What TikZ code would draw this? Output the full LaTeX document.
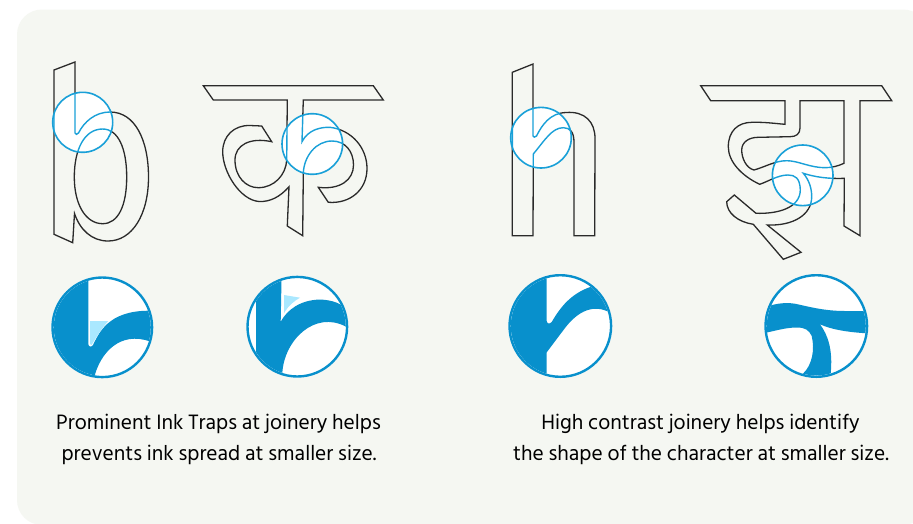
\documentclass[tikz,border=0pt]{standalone}
\usepackage{fontspec}
\setmainfont{Hind Siliguri}
\definecolor{panel}{HTML}{F5F7F2}
\definecolor{inkblue}{HTML}{0890CC}
\definecolor{ringblue}{HTML}{19A0D8}
\definecolor{trap}{HTML}{AAE8FF}
\definecolor{glyphink}{HTML}{2A2A2A}
\tikzset{
  glyphline/.style={draw=glyphink,line width=1.3pt,line join=miter},
  lensline/.style={draw=ringblue,line width=1.4pt},
  lensring/.style={draw=ringblue,line width=1.6pt},
  zoomring/.style={draw=inkblue,line width=2.4pt},
  caption/.style={font=\fontsize{21.4}{24}\selectfont,text=black,inner sep=0pt,anchor=base}
}
\def\glyphB{(54,70) -- (75,62) -- (75,133) .. controls (75,134.5) and (77.5,135) .. (78.5,133)
  .. controls (84,122) and (95,112) .. (110,112)
  .. controls (135,112) and (148.5,140) .. (148.5,177)
  .. controls (148.5,215) and (132,241) .. (108,241)
  .. controls (92,241) and (80,230) .. (74.5,213.5)
  -- (72.7,242.7) -- (54,234.3) -- cycle
  (102.7,129) .. controls (118,129) and (126.7,148) .. (126.7,177)
  .. controls (126.7,206) and (118,223.7) .. (102.7,223.7)
  .. controls (86,223.7) and (74.3,205) .. (74.3,177)
  .. controls (74.3,150) and (84,129) .. (102.7,129) -- cycle}
\def\glyphKa{(203.3,85.7) -- (373.3,85.7) -- (383.3,100) -- (303.3,100) -- (302,141.7)
  .. controls (308,130) and (320,127) .. (330,127.3)
  .. controls (352,130) and (367,148) .. (367,168.5)
  .. controls (367,190) and (350,204) .. (328.3,202.3)
  -- (318.3,187.3)
  .. controls (340,190) and (353.5,180) .. (353.5,165)
  .. controls (353.5,151) and (345,141) .. (332,141)
  .. controls (316,141) and (304,156) .. (303.3,173.3)
  -- (302.7,235.7) -- (287.3,226) -- (289,186.7)
  .. controls (280,197) and (270,202) .. (259,201.5)
  .. controls (240,200) and (222.7,172) .. (222.7,151.7)
  .. controls (222.7,136) and (234,125) .. (250,125.5)
  -- (261.7,126) -- (271.7,141.7)
  .. controls (250,137) and (235,145) .. (235,160)
  .. controls (235,177) and (246,187.7) .. (258.3,187.7)
  .. controls (274,187.7) and (286,175) .. (286.7,160)
  -- (287.3,100) -- (213.3,100) -- cycle}
\def\glyphH{(512.3,72.3) -- (533,64) -- (533,136) .. controls (533,137.5) and (535.5,137.5) .. (536.5,136)
  .. controls (542,125) and (550,113) .. (566,112.5)
  .. controls (585,111) and (595,122) .. (595,138.3)
  -- (594.7,235.7) -- (574,235.7) -- (574,142)
  .. controls (574,132) and (570,127.7) .. (563.3,127.7)
  .. controls (552,127.7) and (545,140) .. (533.3,154)
  -- (533,235.7) -- (512.3,235.7) -- cycle}
\def\glyphJha{(700.7,85.7) -- (881.7,85.7) -- (891.7,100.7) -- (860,100.7) -- (860,235.7) -- (844,226) -- (844.3,178.3)
  .. controls (828,179) and (815,177) .. (803.3,173.3)
  .. controls (809,180) and (811.7,188) .. (811.7,196.7)
  .. controls (811.7,215) and (793,226) .. (767.3,225)
  -- (801,252.3) -- (783.3,259.3) -- (753.3,224.3)
  .. controls (738,222) and (726.7,213) .. (726.7,201.7)
  -- (734.3,195) -- (756,213.3)
  .. controls (778,214) and (800,208) .. (800.3,190)
  .. controls (800,178) and (795,175) .. (788,175)
  .. controls (778,175) and (768,181.5) .. (759.7,184.3)
  .. controls (742,176) and (728.3,162) .. (728.3,146.7)
  .. controls (728.3,131) and (738,122.3) .. (752,122.3)
  .. controls (765,122) and (775,123.5) .. (785,124.3)
  -- (785,100.7) -- (710.7,100.7) -- cycle
  (800,100.7) -- (844,100.7) -- (844,163.3)
  .. controls (838,166) and (832,167.7) .. (825,167.7)
  .. controls (810,167.7) and (798,160.7) .. (786.7,160.7)
  .. controls (775,160.7) and (765,167) .. (754,170)
  .. controls (746,168) and (741.7,158) .. (741.7,150)
  .. controls (741.7,142) and (749,137.3) .. (758.3,137.3)
  -- (790,136.7) .. controls (796,136.7) and (800,134) .. (800,128) -- cycle}
\newcommand{\lensglyph}[4]{%
  \path[glyphline] #1;
  \fill[white] (#2,#3) circle[radius=#4];
  \begin{scope}
    \clip (#2,#3) circle[radius=#4];
    \path[lensline] #1;
  \end{scope}
  \path[lensring] (#2,#3) circle[radius=#4];
}
\newcommand{\zoomdisc}[4]{%
  \fill[white] (#1,#2) circle[radius=#3];
  \begin{scope}
    \clip (#1,#2) circle[radius=#3-2.5];
    #4
  \end{scope}
  \path[zoomring] (#1,#2) circle[radius=#3-1.2];
}
\begin{document}
\begin{tikzpicture}[x=1pt,y=-1pt]
\useasboundingbox (0,0) rectangle (913,523);
\fill[white] (0,0) rectangle (913,523);
\fill[panel,rounded corners=25pt] (17,9.5) rectangle (928,525);
\lensglyph{\glyphB}{82.7}{122.3}{30}
\lensglyph{\glyphKa}{312.3}{144}{30.3}
\lensglyph{\glyphH}{541}{137.7}{30.3}
\lensglyph{\glyphJha}{802.7}{175.3}{30.3}
% zoom discs
\zoomdisc{102.3}{327.3}{51}{%
  \fill[inkblue] (88.3,270) -- (88.3,344) .. controls (88.5,347) and (91.5,347.5) .. (93,345)
    .. controls (99,333) and (108,311) .. (148.3,310.7) -- (165,310) -- (165,348) -- (156,344)
    .. controls (125,329) and (103,348) .. (95,374.3) -- (95,390) -- (40,390) -- (40,270) -- cycle;
  \fill[trap] (90,321) -- (108.3,321) .. controls (101,329) and (96,338) .. (91.5,345) -- (90,344) -- cycle;
}
\zoomdisc{297.3}{326.7}{51}{%
  \fill[inkblue] (281.7,270) -- (280.7,321.7)
    .. controls (287,310) and (300,300) .. (320,299.5) .. controls (330,300) and (336,302) .. (340,304.3)
    -- (365,316) -- (365,337) -- (346,326.7) .. controls (315,310) and (284,340) .. (282.3,373.3)
    -- (282.3,390) -- (256,352) -- (256,300) -- (240,300) -- (240,270) -- cycle;
  \fill[trap] (284,295) -- (300,297.7) .. controls (294,301) and (288,306) .. (284,313.3) -- cycle;
}
\zoomdisc{560.3}{326}{52}{%
  \fill[inkblue] (546.7,265) -- (546.7,321) .. controls (547,324) and (550,324.5) .. (552,321.5)
    .. controls (560,308) and (570,294) .. (591,286.7) -- (625,270) -- (625,320) -- (608.3,311.7)
    .. controls (590,303) and (575,315) .. (565,328) -- (546.7,352.3) -- (546.7,385) -- (500,385) -- (500,265) -- cycle;
}
\zoomdisc{816.3}{326}{52}{%
  \fill[inkblue] (760,306) -- (772.3,305) .. controls (780,303) and (788,302.5) .. (795,303.7)
    .. controls (810,307) and (825,311) .. (845,311) -- (880,311) -- (880,334)
    .. controls (855,333) and (835,331) .. (820,324.3)
    .. controls (828,335) and (833,350) .. (830.7,373.3) -- (830.7,385) -- (795,385) -- (803.3,373.3)
    .. controls (812,365) and (815,350) .. (811.7,336) .. controls (809,330) and (805,327.5) .. (797,327.5)
    .. controls (785,327.5) and (775,331) .. (760,334) -- cycle;
}
% captions
\node[caption] (capa) at (218.5,429.5) {Prominent Ink Traps at joinery helps};
\node[caption] (capb) at (219,460.5) {prevents ink spread at smaller size.};
\node[caption] (capc) at (700.5,429.5) {High contrast joinery helps identify};
\node[caption] (capd) at (701,460.5) {the shape of the character at smaller size.};
\end{tikzpicture}
\end{document}
